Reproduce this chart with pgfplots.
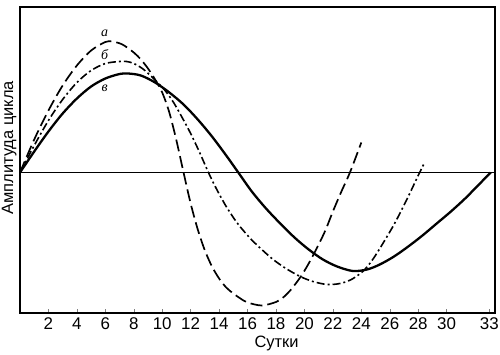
\documentclass[border=0pt]{standalone}
\usepackage{pgfplots}
\pgfplotsset{compat=1.18}
\usepackage{fontspec}
\setmainfont{Liberation Sans}
\newfontfamily\lserif{Liberation Serif}
\begin{document}
\begin{tikzpicture}
\begin{axis}[
  name=ax,
  scale only axis,
  width=475bp, height=306bp,
  xmin=0, xmax=33.4,
  ymin=-140.5, ymax=165.5,
  xtick={2,4,...,30,33},
  ytick=\empty,
  axis line style={line width=1.6pt},
  tick style={black!50, line width=0.5pt},
  major tick length=4bp,
  tick align=inside,
  xtick pos=bottom,
  ticklabel style={font=\fontsize{17}{18}\selectfont},
  /pgf/number format/assume math mode=true,
  xticklabel style={yshift=-1bp},
  xlabel={Сутки},
  ylabel={Амплитуда цикла},
  label style={font=\fontsize{16.5}{18}\selectfont},
  xlabel style={at={(axis description cs:0.54,0)}, anchor=north, yshift=-20bp},
  ylabel style={at={(axis description cs:0,0.54)}, anchor=south, yshift=0bp},
  clip=false,
]
% zero line
\addplot[black, line width=0.7pt] coordinates {(0,0) (33.4,0)};
% curve a (dashed)
\addplot[black, line width=1.7pt, smooth, tension=0.5, dash pattern=on 12bp off 5bp] coordinates {
(0,0) (1,33) (2,62) (3,87) (4,107) (5,122) (6,130.5) (6.5,131) (7.2,128) (8,120) (8.5,113) (9,104)
(9.5,93) (10,80) (10.5,60) (11,32) (11.5,0) (12,-31) (12.5,-57) (13,-78) (13.5,-94) (14,-106)
(14.5,-115) (15,-121) (15.5,-126) (16,-130) (17,-133) (18,-129.5) (18.5,-125) (19,-118) (19.7,-105)
(20.3,-91) (21,-72) (21.5,-57) (22,-39) (22.6,-19) (23.2,0) (24,30)
};
% curve b (dash-dot)
\addplot[black, line width=1.6pt, smooth, tension=0.5, dash pattern=on 8bp off 3bp on 2bp off 3bp] coordinates {
(0,0) (1,27) (2,52) (3,73) (4,90) (5,102) (6,109) (7,111) (7.5,111) (8,109) (8.7,103) (9.6,91)
(10.2,82) (10.8,70) (11.4,55) (12,39) (12.6,21) (13.25,0) (13.8,-16) (14.5,-34) (15.3,-51) (16.2,-66)
(17,-77) (17.8,-87) (18.7,-96) (19.7,-104) (20.6,-109) (21.6,-112) (22.5,-111) (23.3,-107) (24.1,-99)
(24.7,-89) (25.3,-76) (26.3,-52) (27.2,-27) (28.0,-3) (28.45,10)
};
% curve v (solid)
\addplot[black, line width=2.3pt, smooth, tension=0.5] coordinates {
(0,0) (1,21) (2,41) (3,59) (4,74) (5,86) (6,94) (7,98.5) (7.6,99) (8.5,97) (9.5,90) (10.5,80)
(11.5,68) (12.5,53) (13.5,36) (14.5,17) (15.35,0) (16.3,-19) (17.3,-36) (18.3,-51) (19.3,-65)
(20.3,-77) (21.3,-87) (22.3,-94) (23.4,-98.5) (24.4,-97) (25.3,-92) (26.3,-84) (27.3,-74) (28.3,-63)
(29.3,-51) (30.3,-39) (31.3,-26) (32.2,-13) (33.1,0)
};
\node[font=\lserif\itshape\fontsize{14}{15}\selectfont] at (axis cs:5.95,139) {а};
\node[font=\lserif\itshape\fontsize{14}{15}\selectfont] at (axis cs:5.95,118) {б};
\node[font=\lserif\itshape\fontsize{14}{15}\selectfont] at (axis cs:5.95,84) {в};
\end{axis}
\pgfresetboundingbox
\path ([xshift=-20bp,yshift=-42bp]ax.south west) rectangle ([xshift=5bp,yshift=7bp]ax.north east);
\end{tikzpicture}
\end{document}
